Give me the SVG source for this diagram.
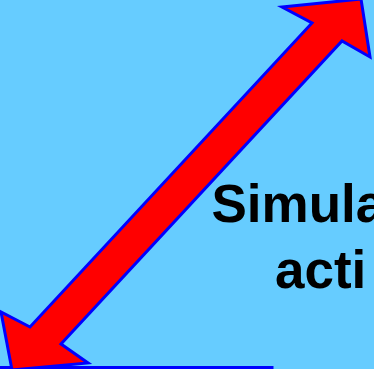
<svg xmlns="http://www.w3.org/2000/svg" width="374" height="369" viewBox="0 0 374 369">
  <style>
    .bg { fill: #66CCFF; }
    .block { fill: #FF0000; stroke: #0000FF; stroke-width: 3; stroke-linejoin: miter; }
    .box { fill: none; stroke: #0000FF; stroke-width: 3; }
    .lbl { font-family: "Liberation Sans", Arial, sans-serif; font-weight: bold; font-size: 53px; fill: #000000; }
  </style>
  <rect class="bg" x="0" y="0" width="374" height="369"/>
  <g id="box">
    <rect class="box" x="-5" y="367.5" width="277" height="40"/>
  </g>
  <g id="connectors">
    <polygon class="block" points="361,-1 370,57 342,41 61,344 88,363 12,370 1,312 30,327 312,23 282,7"/>
  </g>
  <g id="label">
    <text class="lbl" x="211.5" y="222">Simula</text>
    <text class="lbl" x="275" y="288">acti</text>
  </g>
</svg>
